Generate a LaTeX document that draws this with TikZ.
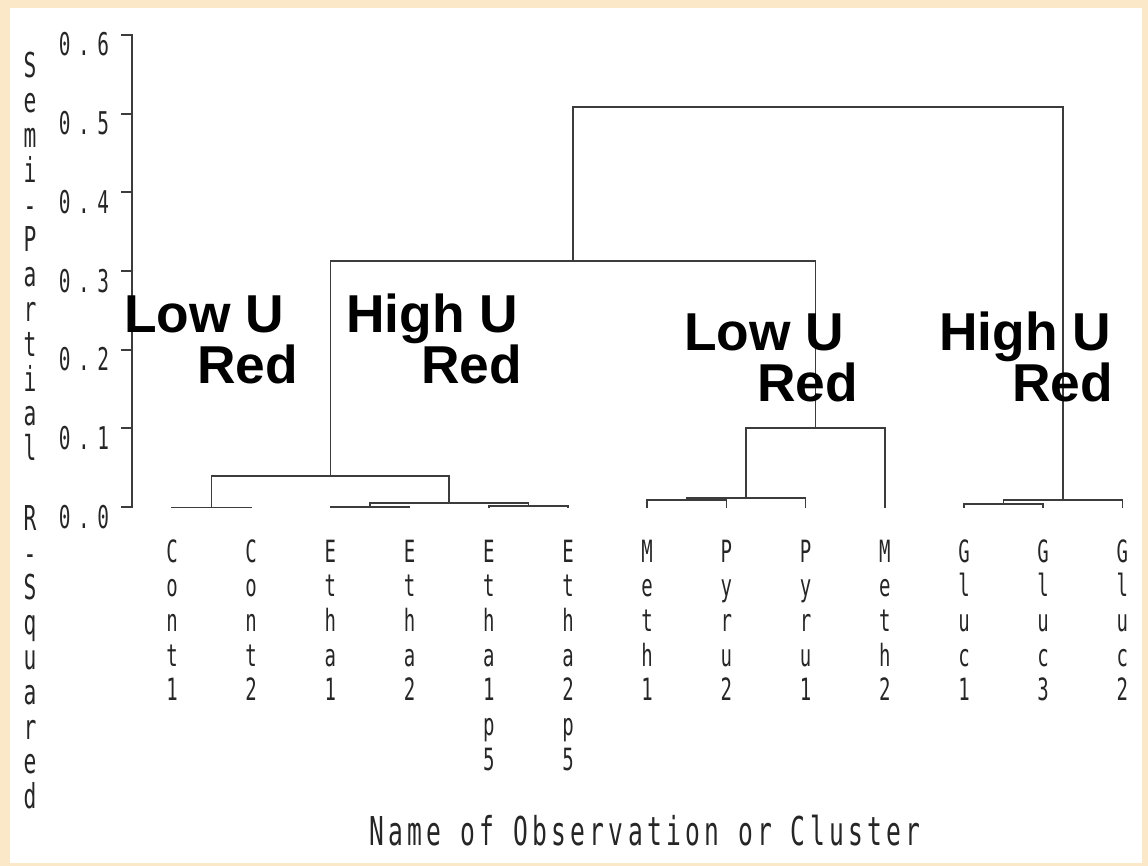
\documentclass[tikz,border=0pt]{standalone}
\usepackage{fontspec}
\setmainfont{Liberation Sans}
% condensed plotter-style face for axis text and observation names
\newfontfamily\sasfont[FakeStretch=0.62]{DejaVu Sans Mono}
\newfontfamily\sastitle[FakeStretch=0.62,LetterSpace=10.6]{DejaVu Sans Mono}
\definecolor{framefill}{RGB}{250,232,200}
\definecolor{ink}{RGB}{60,60,60}
% one character per line, centred, first baseline = box baseline
\newcommand\vlab[2]{\vtop{\baselineskip=#1\lineskiplimit=-100pt\lineskip=0pt\halign{\hfil##\hfil\cr#2\crcr}}}
% spaced-out tick value 0.x
\newcommand\tklab[1]{0\kern5.6pt.\kern5.6pt#1}
\tikzset{
  tree/.style={draw=ink, line width=1.3pt, line cap=rect},
  leaflab/.style={anchor=base, inner sep=0pt, text=black!85,
    font=\sasfont\fontsize{23pt}{26pt}\selectfont},
  ticklab/.style={anchor=base, inner sep=0pt, text=black!85,
    font=\sasfont\fontsize{23.5pt}{26pt}\selectfont},
  ytitle/.style={anchor=base, inner sep=0pt, text=black!85,
    font=\sasfont\fontsize{25.7pt}{26pt}\selectfont},
  xtitle/.style={anchor=base, inner sep=0pt, text=black!85,
    font=\sastitle\fontsize{29.8pt}{32pt}\selectfont},
  grouplab/.style={anchor=base west, inner sep=0pt, text=black,
    font=\bfseries\fontsize{40pt}{46pt}\selectfont}
}
\begin{document}
\begin{tikzpicture}[x=0.75pt,y=-0.75pt]
\useasboundingbox (0,0) rectangle (1148,866);
% page frame
\fill[framefill] (0,0) rectangle (1148,866);
\fill[white] (10,8) rectangle (1142,863);

% vertical axis with ticks and values
\draw[tree] (132,35) -- (132,507);
\foreach \v/\y in {0/507,1/428.3,2/349.7,3/271,4/192.3,5/113.7,6/35}{
  \draw[tree] (122,\y) -- (132,\y);
  \node[ticklab] (tick\v) at (84,\y+21) {\tklab{\v}};
}

% axis titles
\node[ytitle] (ytitle) at (30,78) {\vlab{26.1pt}{S\cr e\cr m\cr i\cr -\cr P\cr a\cr r\cr t\cr i\cr a\cr l\cr\cr R\cr -\cr S\cr q\cr u\cr a\cr r\cr e\cr d}};
\node[xtitle] (xtitle) at (645,845) {Name of Observation or Cluster};

% leaves
\coordinate (c1)  at (172,507.5);
\coordinate (c2)  at (251.2,507.5);
\coordinate (e1)  at (330.4,507.5);
\coordinate (e2)  at (409.6,507.5);
\coordinate (e1p) at (488.8,507.5);
\coordinate (e2p) at (568,507.5);
\coordinate (m1)  at (647.2,507.5);
\coordinate (p2)  at (726.4,507.5);
\coordinate (p1)  at (805.6,507.5);
\coordinate (m2)  at (884.8,507.5);
\coordinate (g1)  at (964,507.5);
\coordinate (g3)  at (1043.2,507.5);
\coordinate (g2)  at (1122.4,507.5);

% leaf names
\node[leaflab] (Lc1)  at (172,562)    {\vlab{26pt}{C\cr o\cr n\cr t\cr 1}};
\node[leaflab] (Lc2)  at (251.2,562)  {\vlab{26pt}{C\cr o\cr n\cr t\cr 2}};
\node[leaflab] (Le1)  at (330.4,562)  {\vlab{26pt}{E\cr t\cr h\cr a\cr 1}};
\node[leaflab] (Le2)  at (409.6,562)  {\vlab{26pt}{E\cr t\cr h\cr a\cr 2}};
\node[leaflab] (Le1p) at (488.8,562)  {\vlab{26pt}{E\cr t\cr h\cr a\cr 1\cr p\cr 5}};
\node[leaflab] (Le2p) at (568,562)    {\vlab{26pt}{E\cr t\cr h\cr a\cr 2\cr p\cr 5}};
\node[leaflab] (Lm1)  at (647.2,562)  {\vlab{26pt}{M\cr e\cr t\cr h\cr 1}};
\node[leaflab] (Lp2)  at (726.4,562)  {\vlab{26pt}{P\cr y\cr r\cr u\cr 2}};
\node[leaflab] (Lp1)  at (805.6,562)  {\vlab{26pt}{P\cr y\cr r\cr u\cr 1}};
\node[leaflab] (Lm2)  at (884.8,562)  {\vlab{26pt}{M\cr e\cr t\cr h\cr 2}};
\node[leaflab] (Lg1)  at (964,562)    {\vlab{26pt}{G\cr l\cr u\cr c\cr 1}};
\node[leaflab] (Lg3)  at (1043.2,562) {\vlab{26pt}{G\cr l\cr u\cr c\cr 3}};
\node[leaflab] (Lg2)  at (1122.4,562) {\vlab{26pt}{G\cr l\cr u\cr c\cr 2}};

% cluster joins: (mid x, join height)
\coordinate (kC)   at (211.6,507.5);
\coordinate (kE)   at (370,507);
\coordinate (kEp)  at (528.4,505.7);
\coordinate (kEE)  at (449.2,503);
\coordinate (kL)   at (330.4,476);
\coordinate (kMP)  at (686.8,500);
\coordinate (kMPP) at (746.2,498);
\coordinate (kM)   at (815.5,428);
\coordinate (kLM)  at (572.95,261);
\coordinate (kG)   at (1003.6,504);
\coordinate (kGG)  at (1062.8,500);
\coordinate (root) at (817.9,107);

\draw[tree] (c1)   |- (kC)   -| (c2);
\draw[tree] (e1)   |- (kE)   -| (e2);
\draw[tree] (e1p)  |- (kEp)  -| (e2p);
\draw[tree] (kE)   |- (kEE)  -| (kEp);
\draw[tree] (kC)   |- (kL)   -| (kEE);
\draw[tree] (m1)   |- (kMP)  -| (p2);
\draw[tree] (kMP)  |- (kMPP) -| (p1);
\draw[tree] (kMPP) |- (kM)   -| (m2);
\draw[tree] (kL)   |- (kLM)  -| (kM);
\draw[tree] (g1)   |- (kG)   -| (g3);
\draw[tree] (kG)   |- (kGG)  -| (g2);
\draw[tree] (kLM)  |- (root) -| (kGG);

% group annotations
\node[grouplab] (lowA1)  at (124,332) {Low U};
\node[grouplab] (lowA2)  at (197,383) {Red};
\node[grouplab] (highA1) at (346,332) {High U};
\node[grouplab] (highA2) at (421,383) {Red};
\node[grouplab] (lowB1)  at (684,350) {Low U};
\node[grouplab] (lowB2)  at (757,401) {Red};
\node[grouplab] (highB1) at (939,350) {High U};
\node[grouplab] (highB2) at (1012,401) {Red};
\end{tikzpicture}
\end{document}
